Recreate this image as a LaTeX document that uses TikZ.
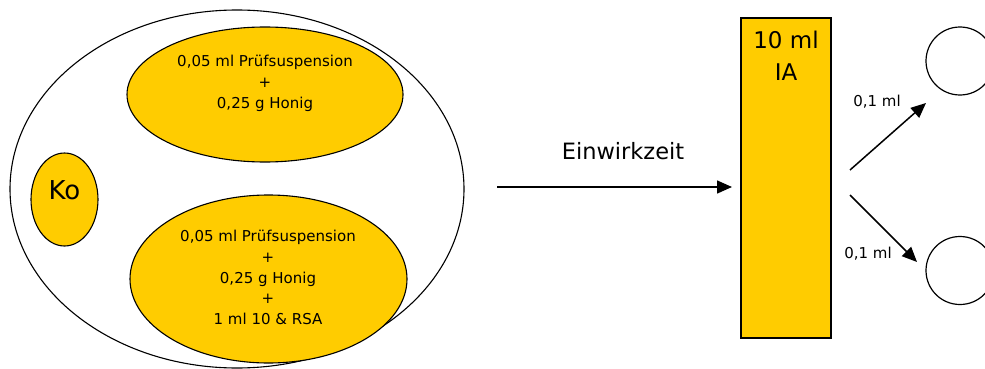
\documentclass[tikz,border=0pt]{standalone}
\usepackage{fontspec}
\setmainfont{DejaVu Sans}
\usetikzlibrary{shapes.geometric,arrows.meta}
\definecolor{gold}{HTML}{FFCC00}
\tikzset{
  blob/.style={ellipse,draw=black,line width=1.1pt,fill=gold,inner sep=0pt},
  outer/.style={ellipse,draw=black,line width=1.1pt,inner sep=0pt},
  txt/.style={align=center,inner sep=0pt,font=\fontsize{15}{20.8}\selectfont},
  small/.style={inner sep=0pt,font=\fontsize{15}{17}\selectfont},
  arr/.style={line width=1.5pt,-{Triangle[length=15pt,width=13pt]}},
  dish/.style={circle,draw=black,line width=1.2pt,minimum size=68pt,inner sep=0pt}
}
\begin{document}
\begin{tikzpicture}[x=1pt,y=-1pt]
\useasboundingbox (0,0) rectangle (985,369);
\node[outer,minimum width=454pt,minimum height=358pt] (out) at (237,189) {};
\node[blob,minimum width=276pt,minimum height=135pt] (top) at (265,94.5) {};
\node[txt] (toptxt) at (265,83.5) {0,05 ml Prüfsuspension\\+\\0,25 g Honig};
\node[blob,minimum width=277pt,minimum height=168pt] (bot) at (268.5,279) {};
\node[txt] (bottxt) at (268,277.5) {0,05 ml Prüfsuspension\\+\\0,25 g Honig\\+\\1 ml 10 \& RSA};
\node[blob,minimum width=67pt,minimum height=93pt] (ko) at (64.5,199.5) {};
\node[inner sep=0pt,font=\fontsize{26}{30}\selectfont] (kotxt) at (64.5,190) {Ko};
\node[draw=black,line width=1.5pt,fill=gold,minimum width=90pt,minimum height=320pt,inner sep=0pt] (ia) at (786,178) {};
\node[inner sep=0pt,align=center,font=\fontsize{23}{32}\selectfont,anchor=north] (iatxt) at (786,31) {10 ml\\IA};
\coordinate (s) at (497,187);
\coordinate (e) at (732,187);
\draw[arr] (s) -- (e);
\node[inner sep=0pt,font=\fontsize{22.5}{26}\selectfont] (ein) at (623,151) {Einwirkzeit};
\node[dish] (c1) at (960,61) {};
\node[dish] (c2) at (960,270.5) {};
\coordinate (a1) at (850,170);
\coordinate (b1) at (926,103);
\coordinate (a2) at (850,195);
\coordinate (b2) at (917,262);
\draw[arr] (a1) -- (b1);
\draw[arr] (a2) -- (b2);
\node[small] (l1) at (877,102) {0,1 ml};
\node[small] (l2) at (868,254) {0,1 ml};
\end{tikzpicture}
\end{document}
